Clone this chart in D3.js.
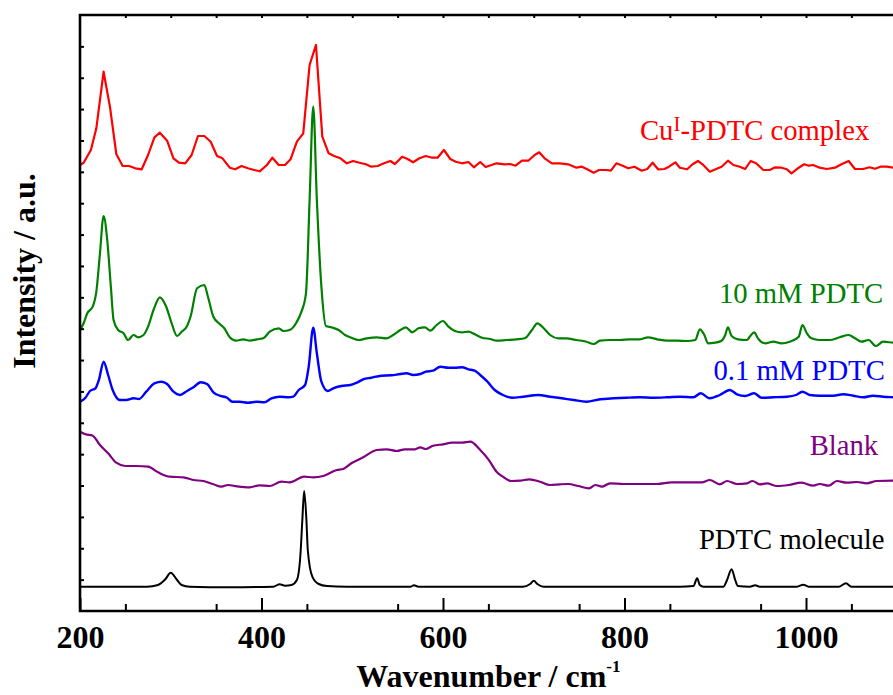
<!DOCTYPE html>
<html>
<head>
<meta charset="utf-8">
<script src="https://cdn.jsdelivr.net/npm/d3@7"></script>
<style>
  html, body { margin: 0; padding: 0; background: #fff; }
  svg { display: block; }
  text { font-family: "Liberation Serif", "Times New Roman", serif; }
</style>
</head>
<body>
<svg id="chart" width="893" height="695"></svg>
<script>
// Raman spectra, offset vertically (arbitrary units); each point is [wavenumber (cm-1), intensity]
const cuComplex = [[200,446],[204,448.3],[212,461],[218,482.7],[226,539.3],[233,504.3],[240,457],[247,445],[254,445],[261,442.7],[268,441.7],[275,456],[282,473.7],[288,478.3],[296,470.3],[303,452.7],[309,448.3],[316,447.7],[323,456],[330,475],[337,475],[344,469.3],[351,455],[357,452.7],[365,443.3],[371,441.7],[378,445],[385,442.7],[392,441],[398,439.7],[406,446],[412,453.3],[419,446],[426,446],[432,451.7],[439,469.3],[446,477.7],[453,546],[460,566],[467,474.3],[474,457.7],[480,455],[487,452.7],[494,447.7],[501,450],[508,448.3],[515,446.7],[521,444.3],[528,445],[535,447.7],[542,450],[547,447],[555,454.3],[561,452],[567,448.7],[574,452.7],[581,455],[588,453.3],[594,453.3],[601,461],[608,452],[614,449.3],[621,447.7],[628,449],[634,443.7],[641,449],[647,444],[659,447.7],[668,446.7],[674,447],[680,445.3],[687,450.3],[694,450.3],[701,456],[706,458.7],[712,452.7],[720,447.7],[729,447.7],[738,446.7],[747,443.3],[753,444.3],[759,441.7],[766,438.3],[772,441],[780,441],[785,440.3],[791,447.7],[798,445.3],[804,442.7],[811,444.3],[819,440.3],[825,442],[831,448.3],[837,441.7],[844,442],[849,444.3],[856,448.7],[861,443.3],[869,441.7],[875,446.7],[881,450],[886,446.7],[894,439.3],[901,442],[907,444.3],[914,450.3],[920,446],[927,444.3],[933,442],[939,450],[945,447.7],[953,441],[960,441],[966,443.7],[973,443.3],[979,441.7],[984,437.7],[992,443.3],[998,446.7],[1003,445.3],[1008,446],[1015,443.3],[1023,442],[1032,443.3],[1039,446.7],[1047,450],[1054,442],[1063,442],[1070,443.7],[1076,442.3],[1082,444.3],[1089,444.3],[1096,443.3],[1100,443]];

const pdtc10mM = [[200,281],[204,287.7],[208,297.7],[214,304.3],[218,319.3],[222,357.7],[226,395],[230,371],[234,324.3],[237,291],[242,281],[248,277.7],[253,271],[259,276],[264,273.7],[270,276],[275,284.3],[281,301],[288,313.7],[295,304.3],[301,287.7],[307,275],[312,279.3],[318,285],[322,295],[329,322.7],[337,326],[341,314.3],[347,294.3],[354,287],[359,282.7],[365,273.7],[372,270.3],[380,271.7],[387,270.3],[395,271.7],[402,272.7],[409,279.3],[419,282.7],[424,280],[431,281],[439,289.3],[444,299.3],[449,317.7],[453,411],[457,504.3],[461,411],[466,324.3],[471,285],[477,283.7],[485,281],[492,276],[499,273.3],[507,271],[516,272.7],[527,273.7],[538,272.7],[545,276],[553,281],[559,283.7],[566,278.7],[573,282.7],[580,283.7],[586,280.3],[593,286],[600,290],[606,284.3],[613,280],[621,278.7],[628,279.3],[635,276.7],[643,273.3],[652,272],[659,270.3],[670,271],[681,271.7],[690,272.7],[698,281],[704,287.7],[711,282.7],[718,276],[727,272.7],[736,272.7],[747,271],[758,269.3],[766,267],[773,270.3],[784,271],[795,271],[806,271.7],[817,271.7],[826,273.7],[836,271.7],[847,270.3],[858,270.3],[869,270],[878,271],[883,281.7],[888,276],[892,267.7],[900,268.3],[907,270.3],[911,276],[914,283.7],[918,275],[925,271.7],[935,271],[938,274.3],[943,278.7],[947,272.7],[955,267.7],[964,269.3],[973,267.7],[982,269.3],[992,274.3],[996,286],[1001,277.7],[1006,272.7],[1015,271],[1026,271],[1037,273.7],[1047,276],[1054,272.7],[1061,269.3],[1069,271],[1077,265],[1085,269.3],[1096,268.3],[1100,268]];

const pdtc01mM = [[200,209.3],[206,213.3],[211,220],[217,222.7],[221,231.7],[226,249.3],[231,236],[236,221],[244,211],[251,211],[259,212.7],[265,212],[273,219.3],[282,227.7],[290,229.3],[296,227],[303,219.3],[310,216],[318,220],[325,223.7],[333,228.7],[340,227],[347,218.7],[354,215.3],[362,213.3],[368,209.3],[376,209.3],[385,208.3],[395,209.3],[403,208.7],[411,212.7],[420,214.3],[430,213.7],[435,214.3],[441,221],[448,226],[452,244.3],[457,283.3],[461,257.7],[466,229.3],[473,220],[479,222.7],[488,225],[498,226],[505,228.3],[512,231.7],[521,233.3],[532,235.3],[543,235.7],[553,237],[560,237.7],[567,236],[575,237],[581,239.3],[589,240.3],[597,244.3],[606,243.3],[613,243.3],[621,243.7],[628,241.7],[635,240.3],[641,236],[649,229.3],[657,221],[666,216],[676,213.3],[688,214.3],[705,216],[718,214.3],[731,212.7],[744,211],[758,209.3],[773,211.7],[788,212.7],[802,213.3],[817,213.7],[832,213.3],[847,213.7],[861,214.3],[876,213.7],[884,217.7],[894,212.7],[905,216],[916,221],[924,216.7],[933,215],[943,217.7],[951,213.3],[964,213.7],[979,214.3],[989,216],[996,219.3],[1004,216],[1015,215.3],[1030,215.3],[1041,216.7],[1052,215.3],[1063,213.7],[1074,215.3],[1085,214.3],[1096,213.7],[1100,213.5]];

const blank = [[200,179.3],[206,176.7],[214,175.3],[222,166],[231,157.7],[240,148.3],[250,145],[262,145],[275,144.3],[286,138.7],[299,134.3],[314,133.7],[325,131],[336,130],[347,126.7],[356,124.3],[363,126],[373,124.7],[387,123.7],[398,125.7],[409,125],[422,129.3],[431,128.7],[447,134.3],[457,133.7],[468,135],[483,141],[490,142],[499,147.7],[512,153.7],[527,161],[538,161.7],[549,160],[558,161.7],[569,161.7],[575,163.7],[581,162],[589,165.3],[600,166.7],[610,168.3],[621,168.3],[630,169.3],[641,161],[650,151.7],[659,139.3],[666,134.3],[675,130],[685,130.3],[695,131.7],[707,129.3],[718,126],[729,126.7],[738,127],[749,125],[761,122.7],[768,126],[775,124.3],[784,127.7],[799,127],[817,127],[836,127],[852,128.7],[872,128.7],[885,128.7],[894,131],[905,126.7],[913,130],[924,127],[935,127.7],[941,130],[949,126.7],[957,127.7],[968,125],[981,126],[995,128.3],[1008,125.3],[1015,127],[1025,125.3],[1034,130],[1045,128.3],[1056,129],[1067,127.7],[1078,130],[1096,130.3],[1100,130.3]];

const pdtcMolecule = [[200,24.3],[274,24.3],[286,26],[294,31.7],[300,38.3],[307,31],[312,26],[321,24.3],[365,23.7],[413,24.3],[420,26.7],[426,25.3],[433,26],[439,31],[443,57.7],[445,91],[447,120],[449.5,91],[451,61],[456,34.3],[463,27],[472,25],[494,24.3],[564,24.3],[568,25.7],[573,24.3],[688,24.3],[696,27],[700,30.3],[704,27],[711,24.3],[861,24.3],[876,25],[880,32.7],[883,26],[887,24.3],[909,24.3],[913,31],[918,41.7],[922,31],[925,25],[938,24.3],[944,25.7],[949,24.3],[990,24.3],[997,26.3],[1003,24.3],[1036,24.3],[1044,27.7],[1050,24.3],[1100,24.3]];

const xTickLabels = [200, 400, 600, 800, 1000];

// series with their colours; label anchors are (wavenumber, intensity at text baseline)
const series = [
  { data: cuComplex,    color: "#ff0000", width: 2.2, curve: d3.curveLinear },
  { data: pdtc10mM,     color: "#008000", width: 2.2, curve: d3.curveMonotoneX },
  { data: pdtc01mM,     color: "#0000ff", width: 2.4, curve: d3.curveMonotoneX },
  { data: blank,        color: "#800080", width: 2.2, curve: d3.curveMonotoneX },
  { data: pdtcMolecule, color: "#000000", width: 2.0, curve: d3.curveMonotoneX }
];
const seriesLabels = [
  { parts: [["Cu", 0], ["I", 1], ["-PDTC complex", 0]], color: "#ff0000", wn: 817, val: 471 },
  { parts: [["10 mM PDTC", 0]],    color: "#008000", wn: 904,  val: 308 },
  { parts: [["0.1 mM PDTC", 0]],   color: "#0000ff", wn: 898,  val: 231 },
  { parts: [["Blank", 0]],         color: "#800080", wn: 1004, val: 156 },
  { parts: [["PDTC molecule", 0]], color: "#000000", wn: 882,  val: 62 }
];

const W = 893, H = 695;
const margin = { left: 80, top: 15, bottom: 84 };
const plotRight = 80 + 900 * 0.9075; // x axis runs to 1100, just past the window edge

const svg = d3.select("#chart");
svg.append("rect").attr("width", W).attr("height", H).attr("fill", "#fff");

const x = d3.scaleLinear().domain([200, 1100]).range([margin.left, plotRight]);
const y = d3.scaleLinear().domain([0, 596]).range([H - margin.bottom, margin.top]);

svg.append("clipPath").attr("id", "plotClip")
  .append("rect")
  .attr("x", margin.left).attr("y", margin.top)
  .attr("width", plotRight - margin.left).attr("height", H - margin.bottom - margin.top);

// spectra
const plot = svg.append("g").attr("clip-path", "url(#plotClip)");
series.forEach(s => {
  const line = d3.line().x(d => x(d[0])).y(d => y(d[1])).curve(s.curve);
  plot.append("path")
    .datum(s.data)
    .attr("fill", "none")
    .attr("stroke", s.color)
    .attr("stroke-width", s.width)
    .attr("stroke-linejoin", "round")
    .attr("d", line);
});

// axes: inward ticks, minor every 50 cm-1
const minorX = d3.range(250, 1100, 100);
const bottomAxis = svg.append("g").attr("transform", `translate(0,${H - margin.bottom})`);
bottomAxis.call(d3.axisBottom(x).tickValues(xTickLabels).tickSize(-13).tickPadding(14).tickFormat(d3.format("d")));
bottomAxis.append("g").call(d3.axisBottom(x).tickValues(minorX).tickSize(-7).tickFormat(""));
bottomAxis.selectAll(".domain").remove();
bottomAxis.selectAll("text")
  .attr("font-family", "'Liberation Serif', 'Times New Roman', serif")
  .attr("font-size", 32).attr("font-weight", "bold").attr("fill", "#000");

const topAxis = svg.append("g").attr("transform", `translate(0,${margin.top})`);
topAxis.call(d3.axisTop(x).tickValues(d3.range(250, 1100, 50)).tickSize(-3).tickFormat(""));
topAxis.selectAll(".domain").remove();

const yTicks = d3.range(1, 19).map(k => k * 596 / 19);
const leftAxis = svg.append("g").attr("transform", `translate(${margin.left},0)`);
leftAxis.call(d3.axisLeft(y).tickValues(yTicks).tickSize(-4).tickFormat(""));
leftAxis.selectAll(".domain").remove();

svg.selectAll(".tick line").attr("stroke", "#000").attr("stroke-width", 2);

// frame
const frame = svg.append("g").attr("stroke", "#000").attr("stroke-width", 2.6).attr("fill", "none");
frame.append("path").attr("d", `M${plotRight},${margin.top}H${margin.left}V${H - margin.bottom}H${plotRight}`)
  .attr("stroke-linecap", "square");

// series labels
seriesLabels.forEach(l => {
  const t = svg.append("text")
    .attr("x", x(l.wn)).attr("y", y(l.val))
    .attr("fill", l.color).attr("font-size", 28.7);
  let shifted = false;
  l.parts.forEach(([str, sup]) => {
    const ts = t.append("tspan").text(str);
    if (sup) { ts.attr("font-size", 21).attr("dy", -9); shifted = true; }
    else if (shifted) { ts.attr("dy", 9); shifted = false; }
  });
});

// axis titles
const xt = svg.append("text")
  .attr("x", (margin.left + plotRight) / 2).attr("y", 687)
  .attr("text-anchor", "middle").attr("font-size", 32).attr("font-weight", "bold");
xt.append("tspan").text("Wavenumber / cm");
xt.append("tspan").text("-1").attr("font-size", 17).attr("dy", -15);

svg.append("text")
  .attr("transform", "translate(35,271) rotate(-90)")
  .attr("text-anchor", "middle").attr("font-size", 32).attr("font-weight", "bold")
  .text("Intensity / a.u.");
</script>
</body>
</html>
